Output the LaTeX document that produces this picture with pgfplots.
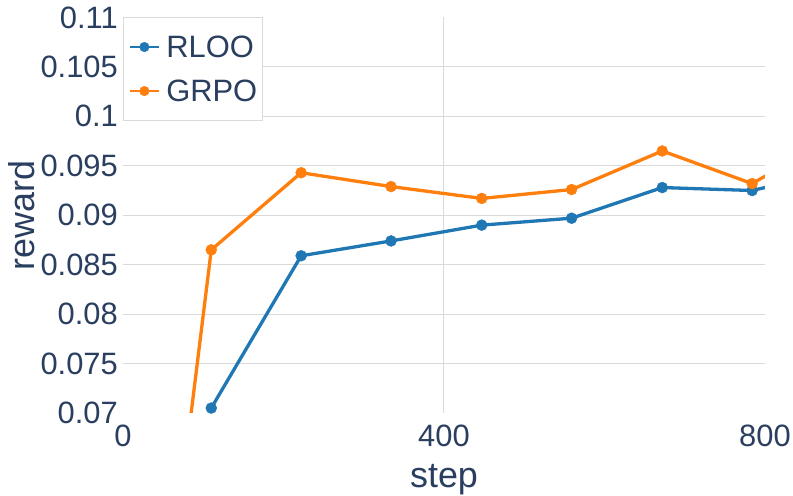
\documentclass[border=0pt]{standalone}
\usepackage{fontspec}
\setmainfont{Liberation Sans}
\usepackage{pgfplots}
\pgfplotsset{compat=1.18}
\usepackage{pgfplotstable}
\definecolor{textcol}{HTML}{2A3F5F}
\definecolor{gridcol}{HTML}{DADADA}
\definecolor{rloo}{HTML}{1F77B4}
\definecolor{grpo}{HTML}{FF7F0E}
\pgfplotstableread{
step reward
0 0.0050
110 0.0705
222 0.0859
334 0.0874
447 0.0890
559 0.0897
672 0.0928
784 0.0925
896 0.0946
}\rloo
\pgfplotstableread{
step reward
0 0.0141
110 0.0865
222 0.0943
334 0.0929
447 0.0917
559 0.0926
672 0.0965
784 0.0932
896 0.0984
}\grpo
\begin{document}
\begin{tikzpicture}
\path[use as bounding box] (0,0) rectangle (793bp,496bp);
\begin{axis}[
  at={(123bp,83bp)}, anchor=south west,
  scale only axis, width=642bp, height=395.5bp,
  xmin=0, xmax=800, ymin=0.07, ymax=0.11,
  axis line style={draw=none},
  major tick length=0pt, tick style={draw=none},
  xtick={400}, xticklabels={400},
  extra x ticks={0,800}, extra x tick labels={0,800},
  extra x tick style={grid=none},
  ytick={0.075,0.08,0.085,0.09,0.095,0.1,0.105},
  yticklabels={0.075,0.08,0.085,0.09,0.095,0.1,0.105},
  extra y ticks={0.07,0.11}, extra y tick labels={0.07,0.11},
  extra y tick style={grid=none},
  grid=major, major grid style={draw=gridcol, line width=1bp},
  ticklabel style={font=\fontsize{31}{31}\selectfont, text=textcol, inner sep=0pt},
  yticklabel style={anchor=east, xshift=-5bp},
  xticklabel style={anchor=north, yshift=-12bp},
  label style={font=\fontsize{36}{36}\selectfont, text=textcol, inner sep=0pt},
  xlabel={step}, ylabel={reward},
  xlabel style={at={(axis description cs:0.5,-0.1896)}, anchor=base},
  ylabel style={at={(axis description cs:-0.1371,0.5)}, rotate=0, anchor=base},
  clip mode=global,
  legend cell align=left,
  legend image code/.code={\draw[mark repeat=2, mark phase=2, #1, line width=2.8bp, mark size=4.8bp] plot coordinates {(0bp,0bp) (14.5bp,0bp) (29bp,0bp)};},
  legend style={at={(axis description cs:0,1)}, anchor=north west,
    draw=gridcol, line width=1bp, fill=white,
    font=\fontsize{31}{31}\selectfont, text=textcol,
    inner xsep=5bp, inner ysep=17.5bp, row sep=21bp, column sep=6bp,
    nodes={inner sep=0pt}},
]
\addplot[color=rloo, line width=3.3bp, mark=*, mark size=5.5bp, mark options={line width=0.4bp}] table[x=step, y=reward] {\rloo};
\addlegendentry{RLOO}
\addplot[color=grpo, line width=3.3bp, mark=*, mark size=5.5bp, mark options={line width=0.4bp}] table[x=step, y=reward] {\grpo};
\addlegendentry{GRPO}
\end{axis}
\end{tikzpicture}
\end{document}
